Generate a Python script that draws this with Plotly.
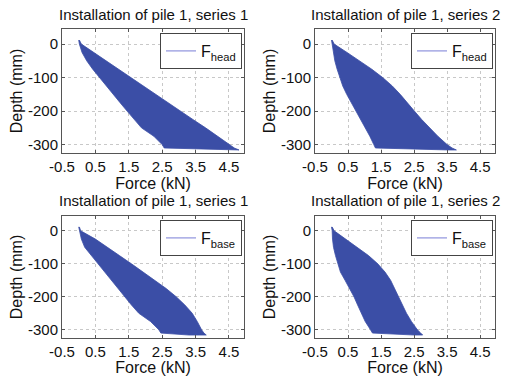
import plotly.graph_objects as go

# ---------------- data ----------------
DEPTH = [12, 0, -25, -50, -75, -100, -125, -150, -175, -200, -225, -250, -275, -300, -310, -316]

HEAD_S1_MIN = [0.0, 0.02, 0.10, 0.24, 0.42, 0.62, 0.83, 1.03, 1.24, 1.45, 1.66, 1.88, 2.25, 2.50, 2.56, 4.30]
HEAD_S1_MAX = [0.02, 0.08, 0.45, 0.82, 1.20, 1.57, 1.94, 2.31, 2.68, 3.05, 3.42, 3.80, 4.17, 4.52, 4.66, 4.80]

HEAD_S2_MIN = [0.0, 0.02, 0.06, 0.10, 0.17, 0.25, 0.34, 0.46, 0.60, 0.75, 0.90, 1.04, 1.16, 1.28, 1.33, 3.55]
HEAD_S2_MAX = [0.02, 0.08, 0.47, 0.86, 1.22, 1.55, 1.84, 2.08, 2.30, 2.51, 2.73, 2.97, 3.22, 3.50, 3.65, 3.78]

BASE_S1_MIN = [0.0, 0.02, 0.08, 0.18, 0.38, 0.56, 0.77, 0.96, 1.17, 1.38, 1.58, 1.80, 2.15, 2.40, 2.46, 3.30]
BASE_S1_MAX = [0.02, 0.06, 0.50, 0.86, 1.22, 1.58, 1.93, 2.28, 2.62, 2.92, 3.18, 3.40, 3.55, 3.68, 3.75, 3.82]

BASE_S2_MIN = [0.0, 0.02, 0.03, 0.06, 0.12, 0.19, 0.27, 0.41, 0.55, 0.68, 0.79, 0.90, 1.02, 1.18, 1.24, 2.50]
BASE_S2_MAX = [0.02, 0.08, 0.42, 0.78, 1.12, 1.40, 1.62, 1.79, 1.92, 2.03, 2.15, 2.27, 2.42, 2.60, 2.70, 2.76]

TITLES = ["Installation of pile 1, series 1", "Installation of pile 1, series 2",
          "Installation of pile 1, series 1", "Installation of pile 1, series 2"]
LEGEND_NAMES = ["F<sub>head</sub>", "F<sub>head</sub>", "F<sub>base</sub>", "F<sub>base</sub>"]
X_TICKS = [-0.5, 0.5, 1.5, 2.5, 3.5, 4.5]
Y_TICKS = [0, -100, -200, -300]
X_TITLE = "Force (kN)"
Y_TITLE = "Depth (mm)"

PANELS = [(HEAD_S1_MIN, HEAD_S1_MAX), (HEAD_S2_MIN, HEAD_S2_MAX),
          (BASE_S1_MIN, BASE_S1_MAX), (BASE_S2_MIN, BASE_S2_MAX)]

# ---------------- layout geometry ----------------
W, H = 505, 376
FONT = "Liberation Sans, Arial, sans-serif"
FILL = "#3B4EA6"
LEG_LINE = "#8F93DD"
AX_COL = "#555555"
GRID_COL = "#c8c8c8"
TXT = "#111111"

# pixel boxes (left, right, top, bottom)
BOXES = [(62, 244, 29, 153), (315, 495, 29, 153), (62, 244, 216, 338), (315, 495, 216, 338)]

fig = go.Figure()
layout = dict(
    width=W, height=H,
    margin=dict(l=0, r=0, t=0, b=0),
    paper_bgcolor="white", plot_bgcolor="white",
    font=dict(family=FONT, size=14, color=TXT),
    annotations=[],
)

for i, ((fmin, fmax), (l, r, t, b)) in enumerate(zip(PANELS, BOXES)):
    n = i + 1
    xa = "x" if n == 1 else f"x{n}"
    ya = "y" if n == 1 else f"y{n}"
    leg = "legend" if n == 1 else f"legend{n}"
    xs = list(fmin) + list(fmax)[::-1]
    ys = list(DEPTH) + list(DEPTH)[::-1]
    fig.add_trace(go.Scatter(x=xs, y=ys, xaxis=xa, yaxis=ya, mode="lines",
                             fill="toself", fillcolor=FILL,
                             line=dict(color=FILL, width=0.8),
                             showlegend=False, hoverinfo="skip"))
    fig.add_trace(go.Scatter(x=[None], y=[None], xaxis=xa, yaxis=ya, mode="lines",
                             line=dict(color=LEG_LINE, width=1.2),
                             name=LEGEND_NAMES[i], legend=leg, showlegend=True))

    xdom = [l / W, r / W]
    ydom = [1 - b / H, 1 - t / H]
    axcommon = dict(showline=True, linecolor=AX_COL, linewidth=1, mirror="ticks",
                    ticks="inside", ticklen=3, tickcolor=AX_COL,
                    showgrid=True, gridcolor=GRID_COL, griddash="dot", gridwidth=0.8,
                    zeroline=False, automargin=False,
                    tickfont=dict(family=FONT, size=15, color=TXT))
    layout["xaxis" if n == 1 else f"xaxis{n}"] = dict(
        axcommon, domain=xdom, anchor=ya, range=[-0.5, 4.95],
        tickvals=X_TICKS, ticktext=[f"{v:g}" for v in X_TICKS],
        title=dict(text=X_TITLE, standoff=1, font=dict(family=FONT, size=16, color=TXT)))
    layout["yaxis" if n == 1 else f"yaxis{n}"] = dict(
        axcommon, domain=ydom, anchor=xa, range=[-325, 45],
        tickvals=Y_TICKS, ticktext=[str(v) for v in Y_TICKS],
        title=dict(text=Y_TITLE, standoff=1, font=dict(family=FONT, size=16, color=TXT)))
    layout[leg] = dict(x=(r - 2) / W, y=1 - (t + 4) / H, xanchor="right", yanchor="top",
                       bordercolor="#444444", borderwidth=1, bgcolor="white",
                       font=dict(family=FONT, size=16, color=TXT),
                       itemwidth=30, tracegroupgap=0)
    layout["annotations"].append(dict(
        text=TITLES[i], x=(l + r) / 2 / W, y=1 - (t - 15) / H, xref="paper", yref="paper",
        xanchor="center", yanchor="middle", showarrow=False,
        font=dict(family=FONT, size=15, color=TXT)))

fig.update_layout(**layout)
fig.write_html("out.html")
